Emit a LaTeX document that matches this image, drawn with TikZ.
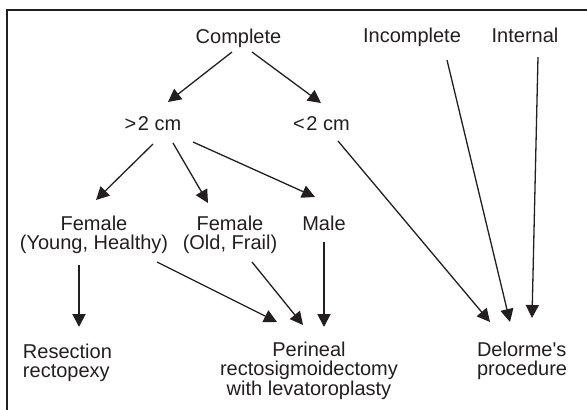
\documentclass[tikz,border=0pt]{standalone}
\usepackage{fontspec}
\setmainfont{Liberation Sans}
\usetikzlibrary{arrows.meta,calc}
\definecolor{ink}{HTML}{231F20}
\begin{document}
\begin{tikzpicture}[x=1pt,y=-1pt,
  lbl/.style={inner sep=0pt,outer sep=0pt,text=ink,font=\fontsize{20}{18.6}\selectfont},
  arr/.style={draw=ink,line width=1.3pt,-{Triangle[length=13pt,width=13pt]}},
  thick arr/.style={arr,line width=1.9pt}]
\useasboundingbox (0,0) rectangle (587,410);
\fill[white] (0,0) rectangle (587,410);
\draw[ink,line width=1.8pt] (7,410) -- (7,10) -- (587,10);
% nodes
\node[lbl,anchor=base] (cmp) at (238.5,43) {Complete};
\node[lbl,anchor=base] (inc) at (412,42) {Incomplete};
\node[lbl,anchor=base] (int) at (525,42) {Internal};
\node[lbl,anchor=base] (gt) at (153,130) {\char`\>\kern1.5pt 2 cm};
\node[lbl,anchor=base] (lt) at (321.5,130) {\char`\<\kern1.5pt 2 cm};
\node[lbl,anchor=base,align=center] (fyh) at (94,249.5) {Female\\(Young, Healthy)};
\node[lbl,anchor=base,align=center] (fof) at (230,249.5) {Female\\(Old, Frail)};
\node[lbl,anchor=base] (male) at (324,230.5) {Male};
\node[lbl,anchor=base west,align=left] (res) at (23,377) {Resection\\rectopexy};
\node[lbl,anchor=base,align=center] (per) at (309,395) {Perineal\\rectosigmoidectomy\\with levatoroplasty};
\node[lbl,anchor=base west,align=left] (del) at (477,375) {Delorme\textquotesingle s\\procedure};
% connectors
\draw[arr] ($(cmp.base)+(-6.5,9)$) -- ($(gt.base)+(15,-28)$);
\draw[arr] ($(cmp.base)+(13.5,9)$) -- ($(lt.base)+(-0.5,-27)$);
\draw[arr] ($(gt.base)+(0,14)$) -- ($(fyh.base)+(2,-49.5)$);
\draw[arr] ($(gt.base)+(20,13)$) -- ($(fof.base)+(-22,-46.5)$);
\draw[arr] ($(gt.base)+(40,12)$) -- ($(male.base)+(-9,-33.5)$);
\draw[arr] ($(lt.base)+(16.5,11)$) -- ($(del.base west)+(13,-53)$);
\draw[arr] ($(inc.base)+(35,18)$) -- ($(del.base west)+(33,-53)$);
\draw[arr] ($(int.base)+(13,15)$) -- ($(del.base west)+(55,-57)$);
\draw[thick arr] ($(fyh.base)+(-15,15.5)$) -- ($(res.base west)+(56,-50)$);
\draw[arr] ($(fyh.base)+(63,12.5)$) -- ($(per.base)+(-32,-73)$);
\draw[arr] ($(fof.base)+(22,12.5)$) -- ($(per.base)+(-6,-70)$);
\draw[thick arr] ($(male.base)+(0,11.5)$) -- ($(per.base)+(15,-68)$);
\end{tikzpicture}
\end{document}
